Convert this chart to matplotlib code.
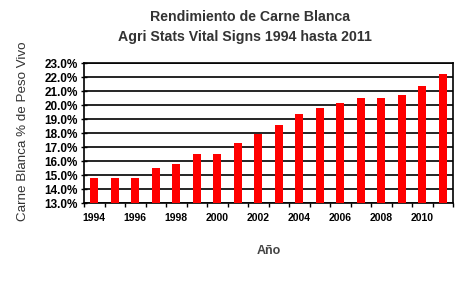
import matplotlib
matplotlib.use("Agg")
import matplotlib.pyplot as plt
import numpy as np

years = list(range(1994, 2012))
values = [14.8, 14.8, 14.8, 15.5, 15.8, 16.5, 16.5, 17.3, 17.9, 18.6,
          19.35, 19.8, 20.15, 20.5, 20.5, 20.75, 21.33, 22.25]
ytick_vals = [13, 14, 15, 16, 17, 18, 19, 20, 21, 22, 23]
xtick_labels = [str(y) if (y - 1994) % 2 == 0 else "" for y in years]

plt.rcParams['font.family'] = ['Liberation Sans', 'DejaVu Sans']

W, H = 475, 285
fig = plt.figure(figsize=(W / 100, H / 100), dpi=100)
fig.patch.set_facecolor('white')
ax = fig.add_axes([84 / W, 1 - 203 / H, (453 - 84) / W, (203 - 63) / H])

x = np.arange(len(years))
ax.bar(x, values, width=0.4, color='#FF0000', zorder=3)

ax.set_xlim(-0.5, len(years) - 0.5)
ax.set_ylim(13, 23)
ax.set_yticks(ytick_vals)
ax.set_yticklabels([f"{v:.1f}%" for v in ytick_vals], fontsize=8.5, fontweight='bold')
ax.yaxis.grid(True, color='black', linewidth=1.2, zorder=1)
ax.set_axisbelow(True)

ax.set_xticks(x)
ax.set_xticklabels(xtick_labels, fontsize=7.5, fontweight='bold')
ax.set_xticks(np.arange(len(years) + 1) - 0.5, minor=True)
ax.tick_params(axis='x', which='major', length=0, pad=7)
ax.tick_params(axis='x', which='minor', length=3, width=1, direction='out')
ax.tick_params(axis='y', length=5, width=1, direction='inout', pad=2)

for s in ax.spines.values():
    s.set_color('black')
    s.set_linewidth(1.2)

ax.set_xlabel('Año', fontsize=9, fontweight='bold', color='#444444', labelpad=16)
ax.set_ylabel('Carne Blanca % de Peso Vivo', fontsize=9.6, color='#333333')
ax.yaxis.set_label_coords(-55 / (453 - 84), (203 - 131.5) / (203 - 63))

fig.text(250 / W, 1 - 17 / H, 'Rendimiento de Carne Blanca', ha='center', va='center',
         fontsize=10.2, fontweight='bold', color='#333333')
fig.text(245 / W, 1 - 37 / H, 'Agri Stats Vital Signs 1994 hasta 2011', ha='center', va='center',
         fontsize=10.2, fontweight='bold', color='#333333')

fig.savefig('out.png', dpi=100, facecolor='white')
